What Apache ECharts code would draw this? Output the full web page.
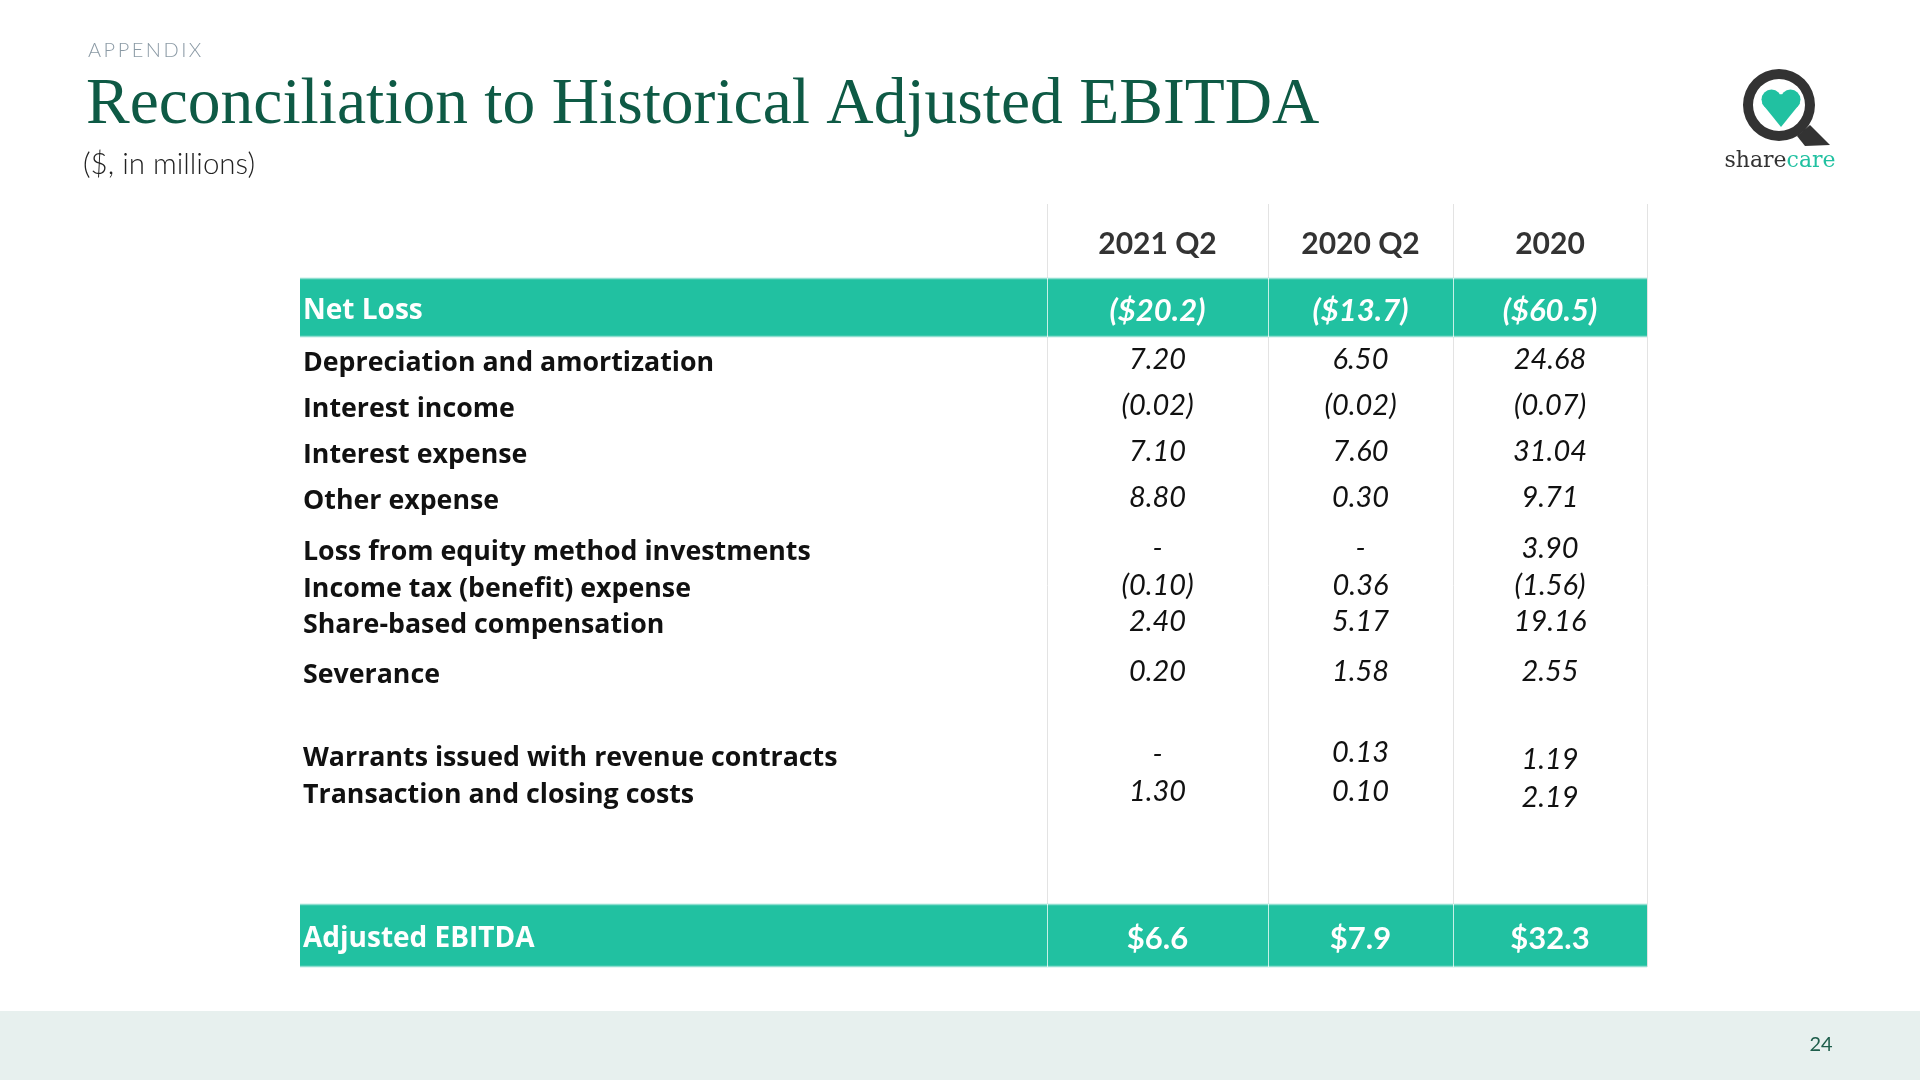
<!DOCTYPE html>
<html>
<head>
<meta charset="utf-8">
<script src="https://cdn.jsdelivr.net/npm/echarts@6/dist/echarts.min.js"></script>
<style>
html,body{margin:0;padding:0;background:#fff;}
#chart{width:1920px;height:1080px;}
</style>
</head>
<body>
<div id="chart"></div>
<script>
// ---------- DATA ----------
const columns = ['2021 Q2', '2020 Q2', '2020'];
const rowLabels = [
  'Net Loss',
  'Depreciation and amortization',
  'Interest income',
  'Interest expense',
  'Other expense',
  'Loss from equity method investments',
  'Income tax (benefit) expense',
  'Share-based compensation',
  'Severance',
  'Warrants issued with revenue contracts',
  'Transaction and closing costs',
  'Adjusted EBITDA'
];
const q2_2021 = [-20.2, 7.20, -0.02, 7.10, 8.80, null, -0.10, 2.40, 0.20, null, 1.30, 6.6];
const q2_2020 = [-13.7, 6.50, -0.02, 7.60, 0.30, null, 0.36, 5.17, 1.58, 0.13, 0.10, 7.9];
const fy_2020 = [-60.5, 24.68, -0.07, 31.04, 9.71, 3.90, -1.56, 19.16, 2.55, 1.19, 2.19, 32.3];
const valueColumns = [q2_2021, q2_2020, fy_2020];
const highlightRows = [0, 11];

// ---------- LAYOUT (table geometry in grid units) ----------
const TABLE_W = 1347, TABLE_H = 763;
const colEdges = [0, 747, 968, 1153, 1347];
const headerY = 40;
const rowY = [107, 158, 204, 250, 296, 347, 384, 420, 470, 553, 590, 735];
const valueNudge = { '1-9': -2, '2-9': 5, '2-10': 6 }; // small vertical offsets seen in the source
const bandSpan = { 0: [74, 133], 11: [700, 763] };
const TEAL = '#21c1a1';
const FONT = 'Lato, "Open Sans", sans-serif';
const LABEL_FONT = '"Open Sans", Lato, sans-serif';

function fmt(v, r) {
  if (v === null || v === undefined) return '-';
  const big = (r === 0 || r === rowLabels.length - 1);
  const s = (big ? '$' : '') + Math.abs(v).toFixed(big ? 1 : 2);
  return v < 0 ? '(' + s + ')' : s;
}
function colCenter(c) { return (colEdges[c] + colEdges[c + 1]) / 2; }

const chart = echarts.init(document.getElementById('chart'), null, { renderer: 'canvas' });

const series = [];

// grey column separators
series.push({
  type: 'custom', silent: true, z: 1,
  data: colEdges.slice(1).map((e, i) => [i]),
  renderItem: function (params, api) {
    const e = colEdges[params.dataIndex + 1];
    const p0 = api.coord([e, 0]);
    const p1 = api.coord([e, TABLE_H]);
    return { type: 'line', shape: { x1: Math.round(p0[0]) + 0.5, y1: p0[1], x2: Math.round(p1[0]) + 0.5, y2: p1[1] },
      style: { stroke: '#e3e3e3', lineWidth: 1 } };
  }
});

// teal highlight bands
series.push({
  type: 'custom', silent: true, z: 2,
  data: highlightRows.map(r => [r]),
  renderItem: function (params, api) {
    const r = highlightRows[params.dataIndex];
    const span = bandSpan[r];
    const a = api.coord([0, span[0]]);
    const b = api.coord([TABLE_W, span[1]]);
    const children = [{ type: 'rect', shape: { x: a[0], y: a[1], width: b[0] - a[0], height: b[1] - a[1] },
      style: { fill: TEAL } }];
    children.push({ type: 'line', shape: { x1: a[0], y1: a[1] + 0.5, x2: b[0], y2: a[1] + 0.5 }, style: { stroke: '#8fded0', lineWidth: 1.5 } });
    children.push({ type: 'line', shape: { x1: a[0], y1: b[1] - 0.5, x2: b[0], y2: b[1] - 0.5 }, style: { stroke: '#8fded0', lineWidth: 1.5 } });
    for (let c = 1; c < colEdges.length - 1; c++) {
      const p = api.coord([colEdges[c], 0]);
      const x = Math.round(p[0]) + 0.5;
      children.push({ type: 'line', shape: { x1: x, y1: a[1], x2: x, y2: b[1] }, style: { stroke: 'rgba(255,255,255,0.75)', lineWidth: 1 } });
    }
    return { type: 'group', children: children };
  }
});

// column headers
series.push({
  type: 'custom', silent: true, z: 3,
  data: columns.map((c, i) => [i]),
  renderItem: function (params, api) {
    const c = params.dataIndex;
    const p = api.coord([colCenter(c + 1), headerY]);
    return { type: 'text', x: p[0], y: p[1],
      style: { text: columns[c], fill: '#333333', font: 'bold 30px ' + FONT, align: 'center', verticalAlign: 'middle' } };
  }
});

// row labels
series.push({
  type: 'custom', silent: true, z: 3,
  data: rowLabels.map((l, i) => [i]),
  renderItem: function (params, api) {
    const r = params.dataIndex;
    const hl = highlightRows.indexOf(r) >= 0;
    const p = api.coord([3, rowY[r] + (hl ? 0 : 1)]);
    return { type: 'text', x: p[0], y: p[1],
      style: { text: rowLabels[r], fill: hl ? '#ffffff' : '#111111', font: 'bold ' + (hl ? 28 : 26.75) + 'px ' + LABEL_FONT, align: 'left', verticalAlign: 'middle' } };
  }
});

// values for each column
valueColumns.forEach(function (vals, c) {
  series.push({
    type: 'custom', silent: true, z: 3,
    data: vals.map((v, i) => [i, v === null ? '-' : v]),
    renderItem: function (params, api) {
      const r = params.dataIndex;
      const hl = highlightRows.indexOf(r) >= 0;
      const nudge = valueNudge[c + '-' + r] || 0;
      const p = api.coord([colCenter(c + 1), rowY[r] - (hl ? 0 : 2) + nudge]);
      let font;
      if (r === 0) font = 'italic bold 31px ' + FONT;
      else if (r === rowLabels.length - 1) font = 'bold 31px ' + FONT;
      else font = 'italic 29px ' + FONT;
      return { type: 'text', x: p[0], y: p[1],
        style: { text: fmt(vals[r], r), fill: hl ? '#ffffff' : '#111111', font: font, align: 'center', verticalAlign: 'middle' } };
    }
  });
});

const option = {
  backgroundColor: '#ffffff',
  animation: false,
  grid: { left: 300, top: 204, width: TABLE_W, height: TABLE_H },
  xAxis: { type: 'value', min: 0, max: TABLE_W, show: false },
  yAxis: { type: 'value', min: 0, max: TABLE_H, inverse: true, show: false },
  series: series,
  graphic: [
    { type: 'rect', shape: { x: 0, y: 1011, width: 1920, height: 69 }, style: { fill: '#e7f0ee' }, z: 0 },
    { type: 'text', x: 1821, y: 1045, style: { text: '24', fill: '#1e5e4b', font: '20px ' + FONT, align: 'center', verticalAlign: 'middle' } },
    { type: 'text', x: 88, y: 51, style: { text: 'A\u2009P\u2009P\u2009E\u2009N\u2009D\u2009I\u2009X', fill: '#8b9aa5', font: '300 20px ' + FONT, align: 'left', verticalAlign: 'middle' } },
    { type: 'text', x: 86, y: 106, style: { text: 'Reconciliation to Historical Adjusted EBITDA', fill: '#0e5a45', font: '65.5px "Liberation Serif", serif', align: 'left', verticalAlign: 'middle' } },
    { type: 'text', x: 83, y: 164, style: { text: '($, in millions)', fill: '#222222', font: '300 29.5px ' + FONT, align: 'left', verticalAlign: 'middle' } },
    // logo
    { type: 'polygon', shape: { points: [[1797, 136], [1810, 125], [1830, 145], [1805, 146]] }, style: { fill: '#333333' } },
    { type: 'ring', shape: { cx: 1779, cy: 105, r: 36, r0: 26 }, style: { fill: '#333333' } },
    { type: 'circle', shape: { cx: 1771.5, cy: 99.5, r: 10 }, style: { fill: TEAL } },
    { type: 'circle', shape: { cx: 1790.5, cy: 99.5, r: 10 }, style: { fill: TEAL } },
    { type: 'polygon', shape: { points: [[1762, 103.5], [1781, 94], [1800, 103.5], [1781, 127]] }, style: { fill: TEAL } },
    { type: 'text', x: 1780, y: 161, style: { text: '{a|share}{b|care}', align: 'center', verticalAlign: 'middle',
      rich: { a: { fill: '#333333', font: '22px "DejaVu Serif", serif' }, b: { fill: TEAL, font: '22px "DejaVu Serif", serif' } } } }
  ]
};
chart.setOption(option);
</script>
</body>
</html>
